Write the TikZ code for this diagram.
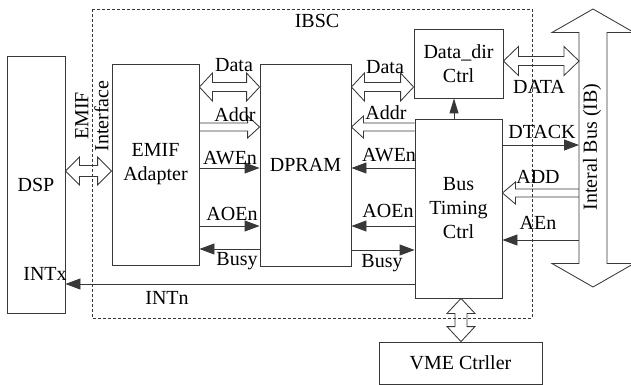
\documentclass[tikz,border=0pt]{standalone}
\usepackage{fontspec}
\setmainfont{Liberation Serif}
\newfontfamily\tnr{Liberation Serif}
\usetikzlibrary{arrows.meta,calc}
\newcommand{\dblH}[5]{\draw[hol] let \p1=(#1), \p2=(#2) in
 (\x1,\y1) -- ({\x1+#5},{\y1+#4}) -- ({\x1+#5},{\y1+#3}) -- ({\x2-#5},{\y1+#3}) -- ({\x2-#5},{\y1+#4}) -- (\x2,\y1)
 -- ({\x2-#5},{\y1-#4}) -- ({\x2-#5},{\y1-#3}) -- ({\x1+#5},{\y1-#3}) -- ({\x1+#5},{\y1-#4}) -- cycle;}
\newcommand{\sglH}[5]{\draw[hol] let \p1=(#1), \p2=(#2), \n1={sign(\x2-\x1)} in
 (\x1,{\y1+#3}) -- ({\x2-(\n1)*#5},{\y1+#3}) -- ({\x2-(\n1)*#5},{\y1+#4}) -- (\x2,\y1)
 -- ({\x2-(\n1)*#5},{\y1-#4}) -- ({\x2-(\n1)*#5},{\y1-#3}) -- (\x1,{\y1-#3});}
\newcommand{\dblV}[5]{\draw[hol] let \p1=(#1), \p2=(#2) in
 (\x1,\y1) -- ({\x1+#4},{\y1-#5}) -- ({\x1+#3},{\y1-#5}) -- ({\x1+#3},{\y2+#5}) -- ({\x1+#4},{\y2+#5}) -- (\x1,\y2)
 -- ({\x1-#4},{\y2+#5}) -- ({\x1-#3},{\y2+#5}) -- ({\x1-#3},{\y1-#5}) -- ({\x1-#4},{\y1-#5}) -- cycle;}
\begin{document}
\begin{tikzpicture}[x=1pt,y=-1pt,
  font=\tnr\fontsize{20}{24}\selectfont,
  ln/.style={draw=black!78, line width=0.85pt},
  box/.style={ln, rectangle, inner sep=0pt},
  sig/.style={ln, -{Triangle[length=15pt,width=11pt]}},
  hol/.style={ln, line join=miter},
  lbl/.style={inner sep=0pt, anchor=center}]
\useasboundingbox (0,0) rectangle (631,385);

% IBSC dashed boundary
\draw[draw=black!78, line width=0.8pt, dash pattern=on 3pt off 2pt] (92,9) rectangle (532,318);
\node[lbl] (ibsc) at (317,21) {IBSC};

% blocks
\node[box, minimum width=58pt, minimum height=257pt] (dsp) at (36,184.5) {};
\node[box, minimum width=87pt, minimum height=201pt] (emif) at (155.5,164.5) {};
\node[box, minimum width=91pt, minimum height=202pt] (dpram) at (305.5,165) {};
\node[box, minimum width=89pt, minimum height=69pt] (ddc) at (458.5,63.5) {};
\node[box, minimum width=87pt, minimum height=179pt] (btc) at (458.5,208.5) {};
\node[box, minimum width=163pt, minimum height=42pt] (vme) at (460.5,363) {};
\node[lbl] (dsptxt) at (dsp) {DSP};
\node[lbl, align=center] (emiftxt) at (emif) {EMIF\\Adapter};
\node[lbl] (dpramtxt) at (dpram) {DPRAM};
\node[lbl, align=center] (ddctxt) at (ddc) {Data\_dir\\Ctrl};
\node[lbl, align=center] (btctxt) at (btc) {Bus\\Timing\\Ctrl};
\node[lbl] (vmetxt) at (vme) {VME Ctrller};

% internal bus
\coordinate (ibtop) at (593,9);
\coordinate (ibbot) at (593,287);
\coordinate (ibl) at (579,0);
\dblV{ibtop}{ibbot}{14pt}{41pt}{23.5pt}
\node[lbl, rotate=90] (iblbl) at (592,147) {Interal Bus (IB)};

% DSP <-> EMIF
\dblH{dsp.east |- 0,171}{emif.west |- 0,171}{5.5pt}{14pt}{14pt}
\node[lbl, rotate=90, align=center, font=\tnr\fontsize{20}{20}\selectfont] (emiflbl) at (92,116) {EMIF\\Interface};

% EMIF <-> DPRAM
\dblH{emif.east |- 0,87}{dpram.west |- 0,87}{4.5pt}{14pt}{13pt}
\node[lbl] (l1) at (234,65) {Data};
\sglH{emif.east |- 0,127}{dpram.west |- 0,127}{4pt}{11pt}{12pt}
\node[lbl] (l2) at (235,115) {Addr};
\draw[sig] (emif.east |- 0,168) -- (dpram.west |- 0,168);
\node[lbl] (l3) at (230,158) {AWEn};
\draw[sig] (emif.east |- 0,226) -- (dpram.west |- 0,226);
\node[lbl] (l4) at (232,214) {AOEn};
\draw[sig] (dpram.west |- 0,249) -- (emif.east |- 0,249);
\node[lbl] (l5) at (237,261) {Busy};

% INTn
\draw[sig] (btc.west |- 0,284) -- (dsp.east |- 0,284);
\node[lbl] (l6) at (45,274) {INTx};
\node[lbl] (l7) at (167,298) {INTn};

% DPRAM <-> right side
\dblH{dpram.east |- 0,87}{ddc.west |- 0,87}{4.5pt}{14pt}{13pt}
\node[lbl] (r1) at (385,67) {Data};
\sglH{btc.west |- 0,127}{dpram.east |- 0,127}{4pt}{11pt}{12pt}
\node[lbl] (r2) at (386,113) {Addr};
\draw[sig] (btc.west |- 0,168) -- (dpram.east |- 0,168);
\node[lbl] (r3) at (389,155) {AWEn};
\draw[sig] (btc.west |- 0,226) -- (dpram.east |- 0,226);
\node[lbl] (r4) at (388,211) {AOEn};
\draw[sig] (dpram.east |- 0,250) -- (btc.west |- 0,250);
\node[lbl] (r5) at (382,263) {Busy};

% Bus timing -> data dir
\draw[ln, -{Triangle[length=15pt,width=9pt]}] (btc.north -| 454,0) -- (ddc.south -| 454,0);

% right side to internal bus
\dblH{ddc.east |- 0,61}{ibl |- 0,61}{4.5pt}{14.5pt}{15pt}
\node[lbl] (b1) at (539,87) {DATA};
\draw[sig] (btc.east |- 0,145) -- (ibl |- 0,145);
\node[lbl] (b2) at (542,132) {DTACK};
\sglH{ibl |- 0,193}{btc.east |- 0,193}{4pt}{11pt}{13pt}
\node[lbl] (b3) at (538,177) {ADD};
\draw[sig] (ibl |- 0,240) -- (btc.east |- 0,240);
\node[lbl] (b4) at (538,223) {AEn};

% Bus timing <-> VME
\dblV{btc.south -| 461,0}{vme.north -| 461,0}{6pt}{14pt}{15pt}
\end{tikzpicture}
\end{document}
